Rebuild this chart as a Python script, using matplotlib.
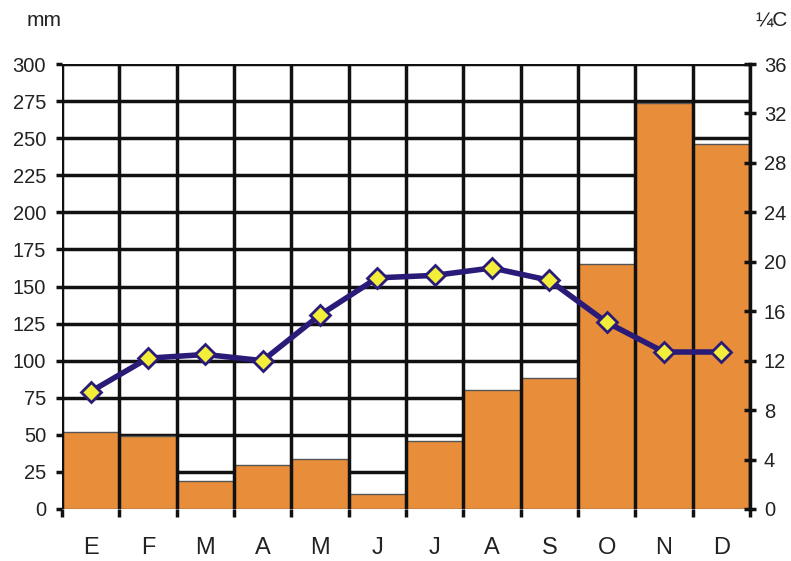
import matplotlib
matplotlib.use('Agg')
import matplotlib.pyplot as plt
import numpy as np

plt.rcParams['font.family'] = ['Liberation Sans', 'DejaVu Sans']

months = ['E', 'F', 'M', 'A', 'M', 'J', 'J', 'A', 'S', 'O', 'N', 'D']
precip_mm = [52, 49, 19, 30, 34, 10, 46, 80, 88, 165, 274, 246]
temp_c = [9.5, 12.2, 12.5, 12.0, 15.7, 18.7, 18.9, 19.5, 18.5, 15.1, 12.7, 12.7]

x = np.arange(len(months))

fig = plt.figure(figsize=(7.91, 5.61), dpi=100)
ax = fig.add_axes([62 / 791, 1 - 509 / 561, 688 / 791, 445 / 561])

# horizontal grid behind the bars
for v in range(0, 301, 25):
    ax.axhline(v, color='#111111', lw=2.5, zorder=1)

ax.bar(x, precip_mm, width=1.0, color='#E88E3A', edgecolor='#555555',
       linewidth=1.0, zorder=2)

# month separators drawn over the bars
for b in np.arange(-0.5, len(months) + 0.5, 1):
    ax.axvline(b, color='#111111', lw=2.5, zorder=3)

ax.set_xlim(-0.5, len(months) - 0.5)
ax.set_ylim(0, 300)
ax.set_yticks(range(0, 301, 25))
ax.set_xticks(np.arange(-0.5, len(months), 1))
ax.set_xticklabels([])
ax.set_xticks(x, minor=True)
ax.set_xticklabels(months, minor=True, fontsize=17, color='#222222')
ax.tick_params(axis='x', which='major', length=6, width=2.5, color='#111111')
ax.tick_params(axis='x', which='minor', length=0, pad=20)
ax.tick_params(axis='y', length=4.5, width=2.5, color='#111111',
               labelsize=14.5, pad=7, labelcolor='#222222')
for s in ax.spines.values():
    s.set_visible(False)

ax2 = ax.twinx()
ax2.plot(x, temp_c, color='#2B1B78', lw=4, marker='D', markersize=10,
         markerfacecolor='#F2EE3A', markeredgecolor='#2B1B78',
         markeredgewidth=2, zorder=5)
ax2.set_ylim(0, 36)
ax2.set_yticks(range(0, 37, 4))
ax2.tick_params(axis='y', direction='inout', length=8, width=2.5,
                color='#111111', labelsize=14.5, pad=6, labelcolor='#222222')
for s in ['left', 'top', 'bottom']:
    ax2.spines[s].set_visible(False)
ax2.spines['right'].set_linewidth(2.5)
ax2.spines['right'].set_color('#111111')

fig.text(27 / 791, 1 - 20 / 561, 'mm', fontsize=15, va='center', ha='left',
         color='#222222')
fig.text(788 / 791, 1 - 20 / 561, '¼C', fontsize=15, va='center', ha='right',
         color='#222222')

fig.savefig('out.png', dpi=100, facecolor='white')
